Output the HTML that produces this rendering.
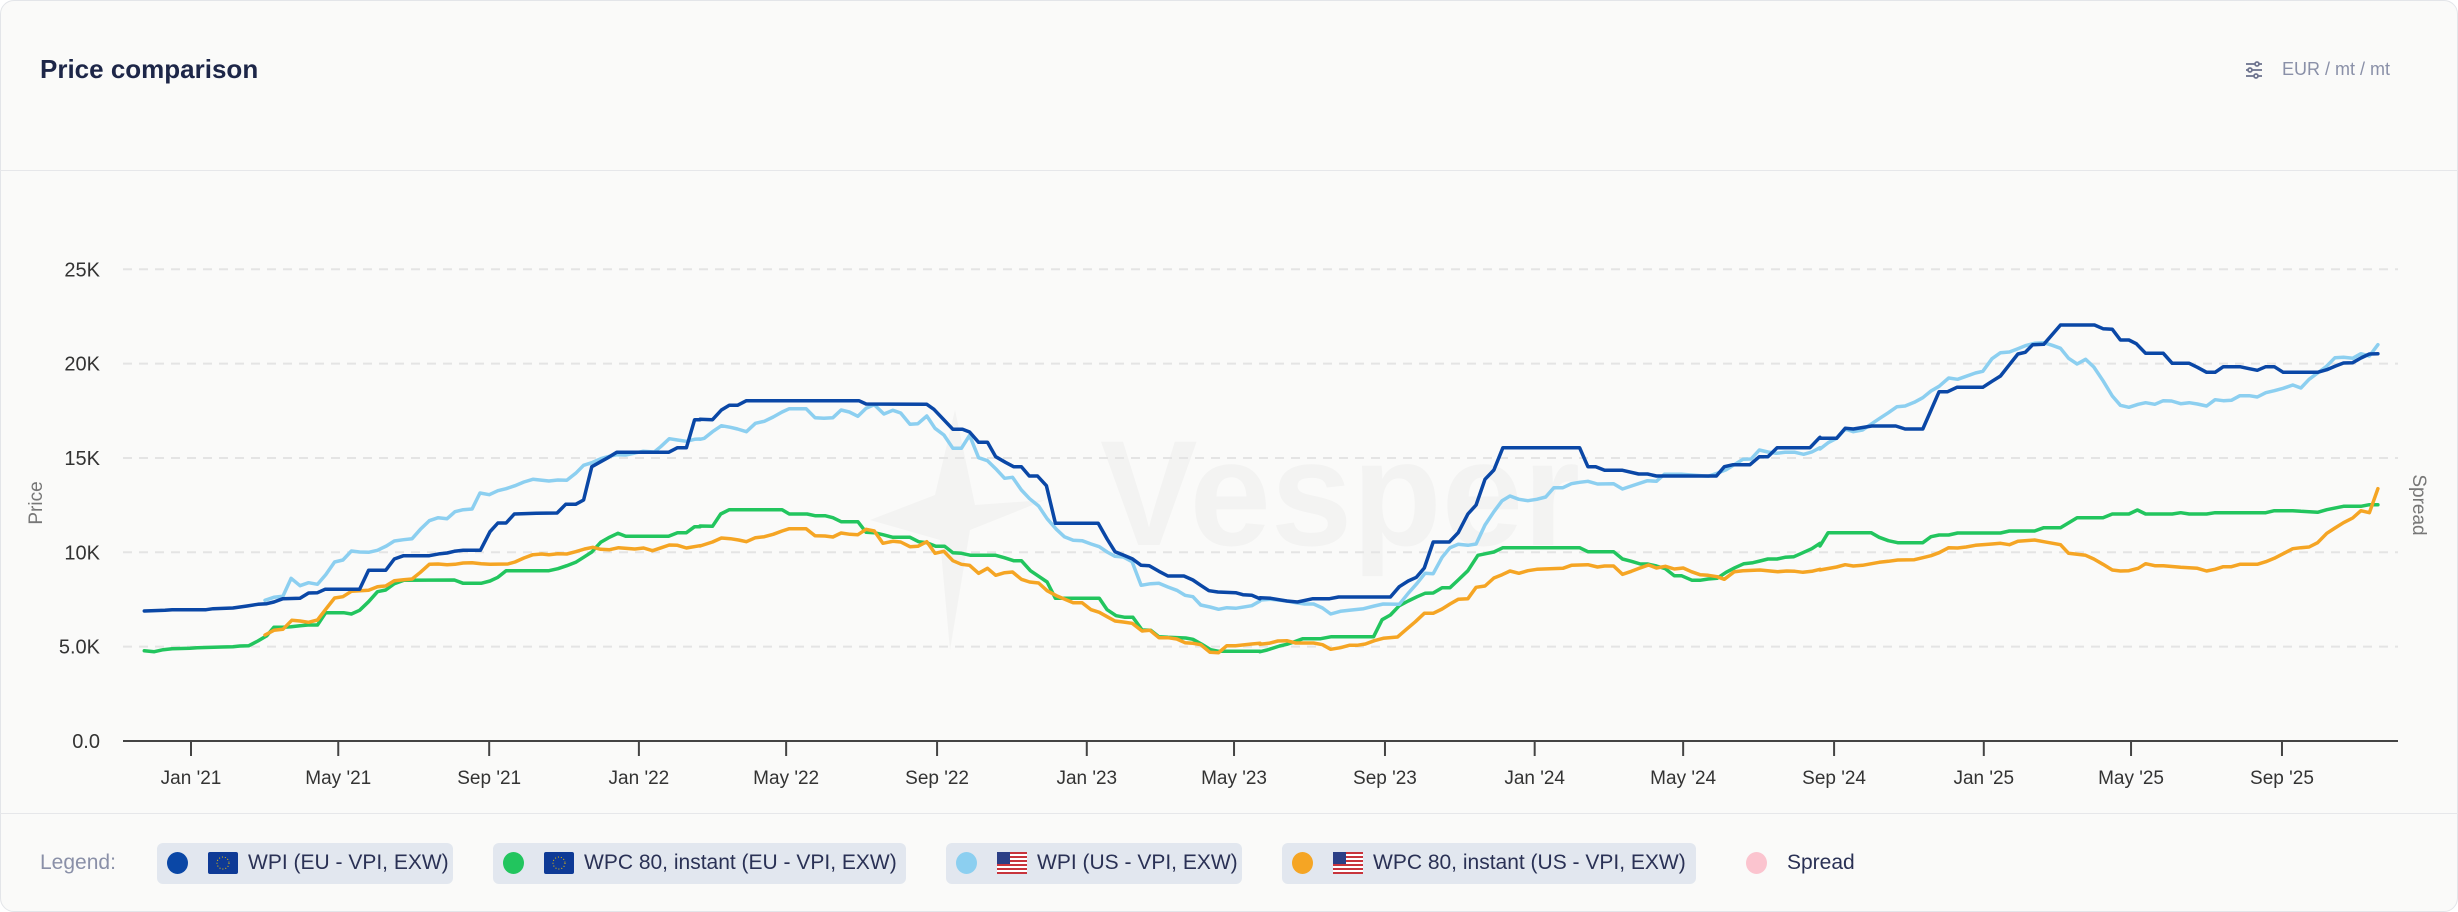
<!DOCTYPE html>
<html><head><meta charset="utf-8"><style>
html,body{margin:0;padding:0;background:#fff;}
body{width:2458px;height:912px;position:relative;overflow:hidden;font-family:"Liberation Sans",sans-serif;}
.card{position:absolute;left:0;top:0;width:2456px;height:910px;border:1px solid #e3e5e9;border-radius:14px;background:#fafaf9;}
.title{position:absolute;left:40px;top:54px;font-size:26px;font-weight:bold;color:#1d2648;}
.unit{position:absolute;left:2282px;top:59px;font-size:18px;color:#8a90a8;}
.hdiv{position:absolute;left:0;top:170px;width:2458px;height:1px;background:#e6e7ea;}
.ldiv{position:absolute;left:0;top:813px;width:2458px;height:1px;background:#e6e7ea;}
.leg{position:absolute;top:843px;height:41px;background:#e2e7ef;border-radius:6px;}
.legt{position:absolute;top:851px;font-size:21px;color:#2a3155;white-space:nowrap;}
.dot{position:absolute;top:852px;width:21px;height:22px;border-radius:50%;}
</style></head><body>
<div class="card"></div>
<div class="title">Price comparison</div>
<svg style="position:absolute;left:2244px;top:60px" width="20" height="20" viewBox="0 0 20 20"><g stroke="#6f7590" stroke-width="1.8" fill="none"><line x1="2" y1="4" x2="18" y2="4"/><line x1="2" y1="10" x2="18" y2="10"/><line x1="2" y1="16" x2="18" y2="16"/><circle cx="13" cy="4" r="2" fill="#fafaf9"/><circle cx="6" cy="10" r="2" fill="#fafaf9"/><circle cx="12" cy="16" r="2" fill="#fafaf9"/></g></svg>
<div class="unit">EUR / mt / mt</div>
<div class="hdiv"></div>
<div class="ldiv"></div>

<svg id="ch" style="position:absolute;left:0;top:0" width="2458" height="912"></svg>

<div style="position:absolute;left:40px;top:851px;font-size:21px;color:#8a90a8;">Legend:</div>
<div class="leg" style="left:157px;width:296px"></div>
<div class="leg" style="left:493px;width:413px"></div>
<div class="leg" style="left:946px;width:296px"></div>
<div class="leg" style="left:1282px;width:414px"></div>
<div class="dot" style="left:167px;background:#0a47a6"></div>
<div class="dot" style="left:503px;background:#22c55e"></div>
<div class="dot" style="left:956px;background:#8ccff0"></div>
<div class="dot" style="left:1292px;background:#f5a524"></div>
<div class="dot" style="left:1746px;background:#fbc4cf"></div>
<svg style="position:absolute;left:208px;top:852px" width="30" height="22"><rect width="30" height="22" fill="#0e3a96" rx="2"/><circle cx="15" cy="11" r="6" fill="none" stroke="#f2c200" stroke-width="1" stroke-dasharray="1 2"/></svg>
<svg style="position:absolute;left:544px;top:852px" width="30" height="22"><rect width="30" height="22" fill="#0e3a96" rx="2"/><circle cx="15" cy="11" r="6" fill="none" stroke="#f2c200" stroke-width="1" stroke-dasharray="1 2"/></svg>
<svg style="position:absolute;left:997px;top:852px" width="30" height="22"><rect width="30" height="22" fill="#fff"/><g fill="#c8343c"><rect y="0" width="30" height="2"/><rect y="4" width="30" height="2"/><rect y="8" width="30" height="2"/><rect y="12" width="30" height="2"/><rect y="16" width="30" height="2"/><rect y="20" width="30" height="2"/></g><rect width="13" height="12" fill="#2b3f86"/></svg>
<svg style="position:absolute;left:1333px;top:852px" width="30" height="22"><rect width="30" height="22" fill="#fff"/><g fill="#c8343c"><rect y="0" width="30" height="2"/><rect y="4" width="30" height="2"/><rect y="8" width="30" height="2"/><rect y="12" width="30" height="2"/><rect y="16" width="30" height="2"/><rect y="20" width="30" height="2"/></g><rect width="13" height="12" fill="#2b3f86"/></svg>
<div class="legt" style="left:248px">WPI (EU - VPI, EXW)</div>
<div class="legt" style="left:584px">WPC 80, instant (EU - VPI, EXW)</div>
<div class="legt" style="left:1037px">WPI (US - VPI, EXW)</div>
<div class="legt" style="left:1373px">WPC 80, instant (US - VPI, EXW)</div>
<div class="legt" style="left:1787px">Spread</div>

<script>
var NS="http://www.w3.org/2000/svg",svg=document.getElementById('ch');
function el(t,a,txt){var e=document.createElementNS(NS,t);for(var k in a)e.setAttribute(k,a[k]);if(txt!=null)e.textContent=txt;svg.appendChild(e);return e;}
// watermark
el('text',{x:1100,y:545,'font-size':150,'font-weight':'bold',fill:'#f3f3f2','font-family':'Liberation Sans, sans-serif',textLength:480,lengthAdjust:'spacingAndGlyphs'},'Vesper');
el('path',{d:'M955 410 L975 505 L1045 500 L970 530 L950 650 L940 540 L870 520 L935 495 Z',fill:'#f3f3f2'});
var ys=[[0,'0.0'],[5,'5.0K'],[10,'10K'],[15,'15K'],[20,'20K'],[25,'25K']];
ys.forEach(function(v){var y=741-v[0]*18.87;
 if(v[0]>0)el('line',{x1:123,x2:2398,y1:y,y2:y,stroke:'#e4e4e4','stroke-width':2,'stroke-dasharray':'9 7'});
 el('text',{x:100,y:y+7,'text-anchor':'end','font-size':20,fill:'#333'},v[1]);});
el('line',{x1:123,x2:2398,y1:741,y2:741,stroke:'#444','stroke-width':2});
var months=[['Jan \'21',0],['May \'21',120],['Sep \'21',243],['Jan \'22',365],['May \'22',485],['Sep \'22',608],['Jan \'23',730],['May \'23',850],['Sep \'23',973],['Jan \'24',1095],['May \'24',1216],['Sep \'24',1339],['Jan \'25',1461],['May \'25',1581],['Sep \'25',1704]];
months.forEach(function(m){var x=191+m[1]*1.2271;
 el('line',{x1:x,x2:x,y1:741,y2:756,stroke:'#444','stroke-width':2});
 el('text',{x:x,y:784,'text-anchor':'middle','font-size':19,fill:'#333'},m[0]);});
el('text',{x:0,y:0,transform:'translate(42,503) rotate(-90)','text-anchor':'middle','font-size':19,fill:'#777'},'Price');
el('text',{x:0,y:0,transform:'translate(2413,505) rotate(90)','text-anchor':'middle','font-size':19,fill:'#777'},'Spread');

var crops={A:[140,2.8],B:[700,2.8],C:[1260,2.8],D:[1820,2.703]};
var S={
db:{c:'#0a47a6',d:{A:[[12,1083],[70,1081],[90,1079],[185,1079],[205,1076],[260,1074],[300,1068],[330,1063],[355,1061],[375,1056],[400,1046],[448,1045],[472,1029],[497,1028],[518,1018],[615,1018],[640,961],[688,961],[712,927],[738,917],[810,917],[840,911],[860,909],[880,904],[905,901],[953,901],[980,845],[1002,819],[1025,819],[1048,792],[1110,790],[1168,789],[1192,763],[1220,763],[1242,750],[1265,650],[1290,635],[1312,622],[1335,607],[1480,607],[1505,593],[1530,593],[1553,509],[1568,509]],
B:[[0,508],[35,509],[60,480],[82,466],[105,466],[130,452],[445,452],[465,462],[635,463],[655,478],[708,538],[735,538],[755,546],[780,577],[805,577],[828,620],[855,637],[878,650],[900,650],[922,678],[945,678],[970,707],[995,820],[1115,820],[1140,867],[1162,905],[1185,915],[1210,926],[1235,946],[1258,947],[1285,964],[1310,978],[1355,978],[1380,990],[1402,1006],[1425,1022],[1450,1026],[1500,1028],[1520,1034],[1545,1036],[1568,1046]],
C:[[0,1043],[30,1045],[75,1053],[105,1056],[148,1046],[195,1046],[220,1041],[365,1041],[390,1010],[415,993],[438,982],[460,954],[485,876],[530,876],[555,848],[582,792],[605,765],[630,688],[655,660],[680,593],[895,593],[918,650],[940,650],[965,661],[1015,661],[1060,672],[1085,672],[1110,678],[1278,678],[1300,650],[1325,644],[1372,644],[1398,620],[1422,620],[1448,593],[1540,593],[1565,565],[1568,562]],
D:[[0,565],[45,565],[68,535],[90,537],[140,528],[205,528],[230,537],[278,537],[322,425],[345,425],[370,412],[440,412],[465,394],[488,378],[512,344],[535,312],[555,307],[575,284],[605,283],[650,225],[742,225],[765,236],[790,238],[812,270],[835,270],[855,281],[880,310],[928,310],[952,340],[998,340],[1020,352],[1045,367],[1068,367],[1090,350],[1135,350],[1160,356],[1182,361],[1205,350],[1228,350],[1252,367],[1345,367],[1370,359],[1392,349],[1415,339],[1440,338],[1462,324],[1485,312],[1508,311]]}},
lb:{c:'#8ccff0',d:{A:[[350,1051],[375,1042],[400,1039],[423,985],[448,1007],[472,998],[497,1003],[520,974],[545,936],[568,930],[592,903],[615,906],[640,907],[665,901],[690,888],[712,873],[738,869],[762,866],[785,838],[810,812],[835,803],[860,806],[882,785],[905,779],[930,777],[952,729],[978,734],[1002,722],[1025,716],[1050,707],[1075,696],[1100,688],[1145,693],[1170,690],[1195,691],[1220,670],[1242,646],[1265,638],[1290,626],[1310,620],[1335,614],[1360,615],[1408,604],[1440,606],[1458,590],[1482,566],[1505,570],[1530,574],[1553,568],[1568,567]],
B:[[0,568],[12,565],[35,545],[60,527],[85,532],[105,537],[130,545],[155,520],[180,514],[205,501],[230,486],[250,476],[297,476],[322,503],[347,505],[372,503],[395,480],[418,486],[442,499],[465,475],[488,464],[515,492],[540,481],[562,489],[588,523],[610,521],[635,498],[658,535],[683,555],[708,595],[732,595],[755,556],[780,623],[805,632],[828,656],[853,685],[875,682],[900,720],[923,746],[948,768],[972,806],[998,838],[1020,860],[1045,871],[1070,872],[1095,882],[1118,890],[1140,906],[1162,919],[1185,921],[1210,935],[1235,1006],[1262,1001],[1285,1000],[1310,1011],[1335,1021],[1358,1036],[1380,1040],[1402,1065],[1428,1071],[1452,1078],[1475,1073],[1500,1075],[1545,1067],[1568,1053]],
C:[[0,1050],[30,1048],[75,1053],[100,1058],[125,1062],[150,1062],[175,1074],[198,1092],[225,1084],[250,1081],[290,1076],[320,1068],[345,1062],[390,1063],[415,1030],[440,1000],[462,970],[485,971],[510,922],[532,893],[555,883],[582,886],[605,882],[630,825],[655,785],[678,752],[700,738],[725,748],[750,752],[775,748],[800,741],[823,713],[848,713],[872,701],[895,697],[918,694],[945,702],[990,701],[1015,717],[1040,708],[1085,692],[1110,694],[1132,673],[1180,673],[1255,679],[1280,670],[1305,659],[1330,643],[1352,628],[1375,627],[1398,600],[1422,606],[1445,610],[1470,607],[1498,607],[1522,613],[1545,606],[1568,593]],
D:[[0,597],[22,578],[45,565],[68,537],[90,545],[115,540],[140,521],[160,506],[185,488],[208,470],[230,468],[255,457],[278,443],[300,423],[322,409],[348,384],[372,388],[395,379],[420,369],[440,364],[465,326],[488,308],[512,306],[535,296],[555,287],[580,280],[605,278],[628,286],[650,295],[672,325],[695,342],[718,328],[740,351],[765,392],[790,438],[812,466],[835,472],[860,463],[880,458],[905,463],[928,452],[950,453],[975,461],[998,458],[1020,462],[1045,468],[1068,449],[1090,452],[1112,451],[1135,437],[1160,437],[1182,441],[1205,428],[1228,422],[1252,415],[1278,405],[1300,414],[1322,388],[1345,369],[1368,350],[1392,323],[1415,322],[1440,325],[1462,311],[1485,318],[1508,284]]}},
gr:{c:'#22c55e',d:{A:[[12,1202],[40,1205],[65,1199],[90,1196],[140,1195],[160,1193],[230,1191],[260,1190],[280,1188],[305,1187],[330,1173],[355,1157],[375,1132],[400,1132],[423,1130],[448,1127],[470,1125],[497,1125],[520,1088],[570,1088],[592,1092],[615,1081],[640,1055],[665,1025],[688,1020],[712,1001],[738,991],[880,990],[905,1000],[955,1000],[980,993],[1002,982],[1025,962],[1145,962],[1170,956],[1195,947],[1220,937],[1242,922],[1265,906],[1290,877],[1312,863],[1338,850],[1360,859],[1480,859],[1505,848],[1530,848],[1553,830],[1568,830]],
B:[[0,828],[35,829],[58,792],[82,779],[230,779],[250,792],[300,792],[322,797],[350,797],[372,803],[395,815],[442,815],[465,847],[488,848],[512,854],[540,862],[588,862],[612,875],[635,878],[660,889],[685,889],[708,908],[732,910],[758,916],[828,916],[852,923],[878,932],[900,932],[925,962],[950,980],[972,996],[995,1045],[1118,1045],[1140,1079],[1165,1097],[1190,1102],[1212,1102],[1238,1140],[1262,1141],[1285,1160],[1310,1162],[1360,1164],[1380,1168],[1405,1183],[1430,1199],[1452,1204],[1568,1204]],
C:[[0,1205],[20,1200],[55,1188],[75,1183],[100,1174],[120,1166],[170,1166],[200,1160],[318,1160],[342,1109],[365,1095],[390,1067],[415,1053],[440,1040],[462,1030],[485,1029],[510,1013],[532,1013],[555,990],[582,962],[610,916],[632,911],[655,906],[680,893],[895,893],[918,905],[990,905],[1015,927],[1040,934],[1065,942],[1085,942],[1110,948],[1135,956],[1160,977],[1180,977],[1210,991],[1232,991],[1255,987],[1280,985],[1305,967],[1330,953],[1355,941],[1380,938],[1400,933],[1422,927],[1448,927],[1470,922],[1495,920],[1520,908],[1545,896],[1568,880]],
D:[[0,888],[22,848],[138,848],[160,862],[185,872],[210,878],[278,878],[300,860],[322,855],[348,855],[372,849],[488,849],[512,843],[580,843],[605,833],[650,833],[695,803],[765,803],[790,792],[835,792],[858,780],[880,792],[952,792],[975,788],[998,792],[1045,792],[1068,788],[1205,788],[1228,782],[1278,782],[1300,784],[1322,785],[1345,787],[1370,779],[1415,769],[1462,769],[1485,764],[1508,764]]}},
or:{c:'#f5a524',d:{A:[[350,1155],[375,1141],[400,1138],[425,1111],[448,1113],[472,1117],[497,1110],[520,1078],[545,1044],[568,1040],[592,1024],[640,1021],[665,1010],[688,1008],[712,992],[738,989],[762,987],[785,967],[810,943],[835,942],[860,944],[882,943],[905,939],[930,938],[955,941],[980,943],[1030,942],[1050,936],[1075,924],[1100,914],[1125,912],[1145,914],[1170,911],[1195,912],[1220,905],[1245,897],[1268,892],[1290,898],[1315,899],[1340,893],[1385,897],[1410,894],[1435,902],[1460,893],[1482,885],[1505,886],[1530,894],[1568,887]],
B:[[0,888],[35,876],[60,864],[85,866],[108,870],[130,875],[155,863],[180,860],[205,853],[230,843],[250,836],[297,836],[322,857],[350,858],[372,861],[395,849],[420,853],[442,854],[465,838],[488,843],[512,880],[540,874],[562,876],[588,890],[610,889],[635,875],[658,910],[683,904],[708,932],[732,943],[755,946],[780,970],[805,955],[828,976],[853,968],[875,966],[900,988],[923,996],[948,999],[972,1022],[998,1037],[1020,1047],[1045,1058],[1070,1058],[1095,1079],[1118,1087],[1140,1100],[1162,1113],[1185,1116],[1210,1120],[1238,1143],[1260,1141],[1285,1163],[1310,1163],[1335,1167],[1358,1178],[1380,1180],[1402,1184],[1428,1207],[1452,1208],[1475,1187],[1500,1187],[1545,1182],[1568,1180]],
C:[[0,1183],[25,1180],[50,1173],[75,1172],[100,1179],[150,1179],[175,1184],[198,1198],[225,1193],[250,1186],[272,1186],[295,1182],[320,1172],[345,1165],[385,1161],[410,1138],[435,1115],[460,1090],[485,1090],[510,1077],[532,1062],[555,1048],[582,1046],[605,1012],[630,1008],[655,984],[678,974],[700,963],[725,970],[750,962],[775,958],[848,955],[872,946],[918,944],[945,951],[965,948],[990,948],[1015,973],[1040,964],[1062,955],[1088,945],[1110,954],[1135,949],[1160,957],[1185,954],[1208,965],[1232,974],[1255,976],[1280,980],[1300,988],[1328,965],[1352,962],[1400,960],[1450,965],[1475,963],[1498,964],[1520,967],[1545,964],[1568,958]],
D:[[0,960],[45,951],[68,944],[90,948],[115,946],[160,937],[185,934],[210,930],[255,929],[278,923],[300,917],[322,908],[348,893],[372,894],[395,891],[420,886],[465,882],[488,880],[512,884],[535,874],[580,870],[605,875],[650,884],[672,910],[718,916],[740,927],[765,943],[790,960],[812,963],[835,962],[860,955],[880,941],[905,947],[928,947],[975,952],[1020,955],[1045,963],[1068,958],[1090,950],[1112,950],[1135,943],[1182,943],[1205,935],[1228,925],[1252,911],[1278,896],[1300,893],[1322,891],[1345,878],[1370,850],[1392,834],[1415,818],[1440,804],[1462,782],[1485,788],[1508,716]]}}
};
['gr','or','lb','db'].forEach(function(k){
 var s=S[k],pts=[];
 ['A','B','C','D'].forEach(function(c){var cr=crops[c];s.d[c].forEach(function(p){pts.push((cr[0]+p[0]/cr[1]).toFixed(1)+','+(250+p[1]/3).toFixed(1));});});
 el('polyline',{points:pts.join(' '),fill:'none',stroke:s.c,'stroke-width':3.5,'stroke-linejoin':'round','stroke-linecap':'round'});
});
</script>
</body></html>
